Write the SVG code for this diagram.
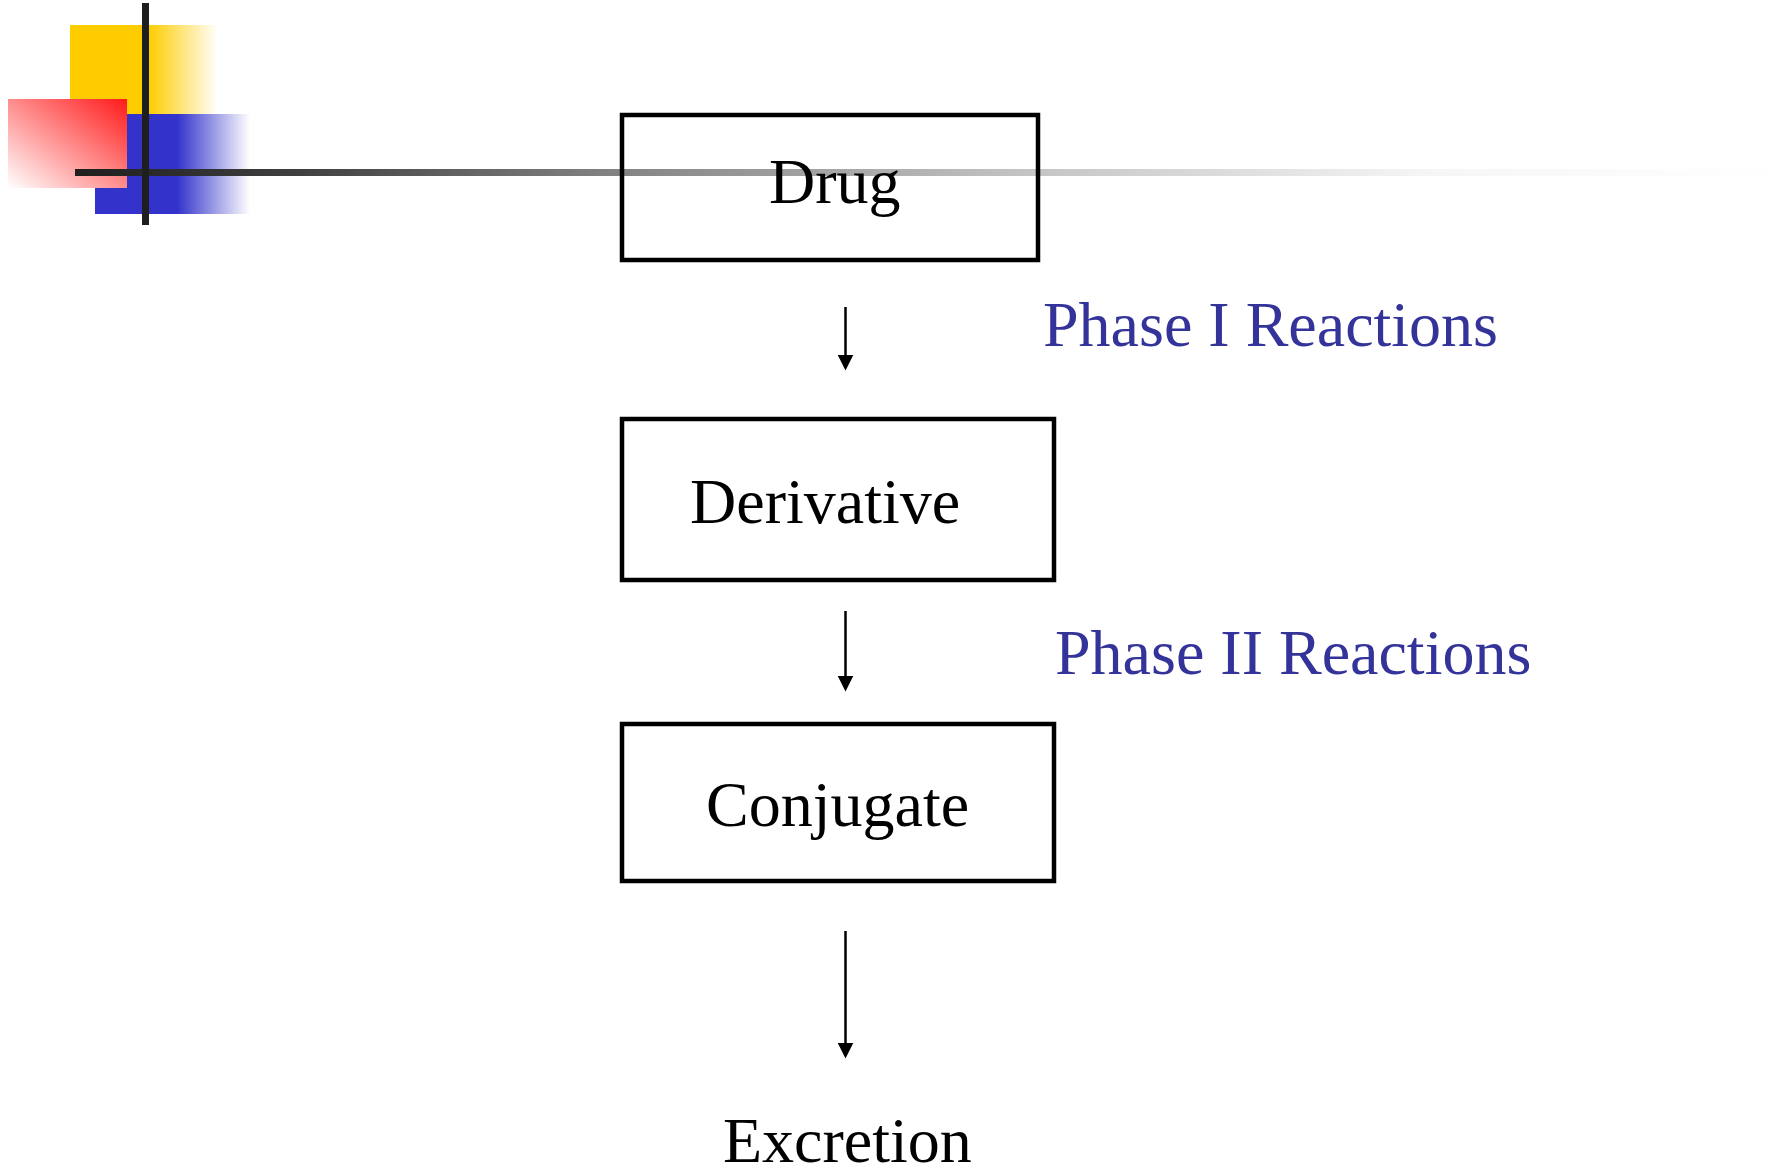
<svg xmlns="http://www.w3.org/2000/svg" width="1787" height="1166" viewBox="0 0 1787 1166">
  <defs>
    <style>
      .box { fill: none; stroke: #000; stroke-width: 4.5; }
      .lbl { font-family: "Liberation Serif", "Times New Roman", serif; font-size: 64px; fill: #000; }
      .phase { font-family: "Liberation Serif", "Times New Roman", serif; font-size: 64px; fill: #333399; }
      .conn { stroke: #000; stroke-width: 2.5; fill: none; marker-end: url(#arrow); }
      .bar { fill: #1e1e1e; }
    </style>
    <marker id="arrow" markerUnits="userSpaceOnUse" markerWidth="16" markerHeight="16" refX="7" refY="7.5" orient="auto" viewBox="0 0 15 15">
      <path d="M0,0 L15,7.5 L0,15 z" fill="#000"/>
    </marker>
    <linearGradient id="gYellow" x1="0" y1="0" x2="1" y2="0">
      <stop offset="0" stop-color="#FFCC00"/>
      <stop offset="0.53" stop-color="#FFCC00"/>
      <stop offset="1" stop-color="#FFFFFF"/>
    </linearGradient>
    <linearGradient id="gBlue" x1="0" y1="0" x2="1" y2="0">
      <stop offset="0" stop-color="#3333CC"/>
      <stop offset="0.53" stop-color="#3333CC"/>
      <stop offset="1" stop-color="#FFFFFF"/>
    </linearGradient>
    <linearGradient id="gRed" x1="1" y1="0" x2="0" y2="1">
      <stop offset="0" stop-color="#FF1A1A"/>
      <stop offset="1" stop-color="#FFFFFF"/>
    </linearGradient>
    <linearGradient id="gLine" gradientUnits="userSpaceOnUse" x1="75" y1="0" x2="1787" y2="0">
      <stop offset="0" stop-color="#1e1e1e"/>
      <stop offset="0.131" stop-color="#404040"/>
      <stop offset="0.307" stop-color="#808080"/>
      <stop offset="0.54" stop-color="#c0c0c0"/>
      <stop offset="0.793" stop-color="#f6f6f6"/>
      <stop offset="1" stop-color="#ffffff"/>
    </linearGradient>
  </defs>

  <g id="decoration">
    <rect x="70" y="25" width="148" height="89" fill="url(#gYellow)"/>
    <rect x="95" y="114" width="155" height="100" fill="url(#gBlue)"/>
    <rect x="8" y="99" width="119" height="89" fill="url(#gRed)"/>
    <rect x="75" y="169" width="1712" height="7" fill="url(#gLine)"/>
    <rect class="bar" x="142" y="3" width="7" height="222"/>
  </g>

  <g id="connectors">
    <line class="conn" x1="845.5" y1="307" x2="845.5" y2="362"/>
    <line class="conn" x1="845.5" y1="611" x2="845.5" y2="683"/>
    <line class="conn" x1="845.5" y1="931" x2="845.5" y2="1050"/>
  </g>

  <g id="node-drug">
    <rect class="box" x="622" y="115" width="416" height="145"/>
    <text class="lbl" x="769" y="203">Drug</text>
  </g>

  <g id="node-derivative">
    <rect class="box" x="622" y="419" width="432" height="161"/>
    <text class="lbl" x="690" y="523">Derivative</text>
  </g>

  <g id="node-conjugate">
    <rect class="box" x="622" y="724" width="432" height="157"/>
    <text class="lbl" x="706" y="826">Conjugate</text>
  </g>

  <g id="node-excretion">
    <text class="lbl" x="723" y="1162">Excretion</text>
  </g>

  <g id="label-phase1">
    <text class="phase" x="1043" y="346">Phase I Reactions</text>
  </g>

  <g id="label-phase2">
    <text class="phase" x="1055" y="674">Phase II Reactions</text>
  </g>
</svg>
